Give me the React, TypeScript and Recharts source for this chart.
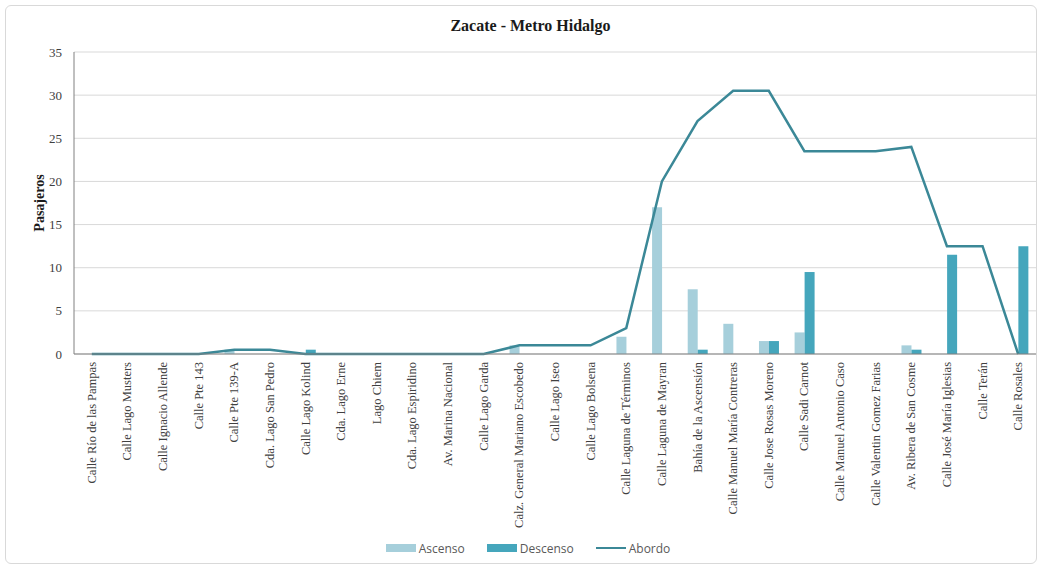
import { ComposedChart, Bar, Line, XAxis, YAxis, CartesianGrid, Legend } from 'recharts';

const paradas = [
  'Calle Río de las Pampas',
  'Calle Lago Musters',
  'Calle Ignacio Allende',
  'Calle Pte 143',
  'Calle Pte 139-A',
  'Cda. Lago San Pedro',
  'Calle Lago Kolind',
  'Cda. Lago Erne',
  'Lago Chiem',
  'Cda. Lago Espiridino',
  'Av. Marina Nacional',
  'Calle Lago Garda',
  'Calz. General Mariano Escobedo',
  'Calle Lago Iseo',
  'Calle Lago Bolsena',
  'Calle Laguna de Términos',
  'Calle Laguna de Mayran',
  'Bahía de la Ascensión',
  'Calle Manuel María Contreras',
  'Calle Jose Rosas Moreno',
  'Calle Sadi Carnot',
  'Calle Manuel Antonio Caso',
  'Calle Valentin Gomez Farias',
  'Av. Ribera de San Cosme',
  'Calle José María Iglesias',
  'Calle Terán',
  'Calle Rosales',
];

const ascenso = [0, 0, 0, 0, 0.5, 0, 0, 0, 0, 0, 0, 0, 1, 0, 0, 2, 17, 7.5, 3.5, 1.5, 2.5, 0, 0, 1, 0, 0, 0];
const descenso = [0, 0, 0, 0, 0, 0, 0.5, 0, 0, 0, 0, 0, 0, 0, 0, 0, 0, 0.5, 0, 1.5, 9.5, 0, 0, 0.5, 11.5, 0, 12.5];
const abordo = [0, 0, 0, 0, 0.5, 0.5, 0, 0, 0, 0, 0, 0, 1, 1, 1, 3, 20, 27, 30.5, 30.5, 23.5, 23.5, 23.5, 24, 12.5, 12.5, 0];

const yTicks = [0, 5, 10, 15, 20, 25, 30, 35];

const C_ASC = '#a6cfdb';
const C_DESC = '#45a6bc';
const C_LINE = '#3b8897';
const SERIF = '"Liberation Serif", "Times New Roman", serif';

const data = paradas.map((p, i) => ({
  parada: p,
  Ascenso: ascenso[i],
  Descenso: descenso[i],
  Abordo: abordo[i],
}));

function StopTick({ x, y, payload }: any) {
  return (
    <text
      x={x}
      y={y}
      dy={4}
      transform={`rotate(-90, ${x}, ${y})`}
      textAnchor="end"
      fontSize={12.5}
      fontFamily={SERIF}
      fill="#404040"
    >
      {payload.value}
    </text>
  );
}

function ChartLegend() {
  const item = { display: 'flex', alignItems: 'center', gap: 3 } as const;
  return (
    <div
      style={{
        display: 'flex',
        justifyContent: 'center',
        gap: 22,
        height: 24,
        alignItems: 'center',
        fontFamily: '"Open Sans", sans-serif',
        fontSize: 12,
        color: '#595959',
      }}
    >
      <span style={item}>
        <span style={{ width: 30, height: 8, background: C_ASC, display: 'inline-block' }} />
        Ascenso
      </span>
      <span style={item}>
        <span style={{ width: 30, height: 8, background: C_DESC, display: 'inline-block' }} />
        Descenso
      </span>
      <span style={item}>
        <span style={{ width: 30, height: 2, background: C_LINE, display: 'inline-block' }} />
        Abordo
      </span>
    </div>
  );
}

export default function App() {
  return (
    <div style={{ position: 'absolute', left: 0, top: 0, width: 1041, height: 568, background: '#fff' }}>
      <div
        style={{
          position: 'absolute',
          left: 5,
          top: 5,
          width: 1030,
          height: 557,
          border: '1px solid #d9d9d9',
          borderRadius: 6,
        }}
      />
      <div
        style={{
          position: 'absolute',
          left: 20,
          top: 17,
          width: 1021,
          textAlign: 'center',
          fontFamily: SERIF,
          fontWeight: 'bold',
          fontSize: 16,
          color: '#1a1a1a',
        }}
      >
        Zacate - Metro Hidalgo
      </div>
      <div style={{ position: 'absolute', left: 0, top: 0 }}>
        <ComposedChart
          width={1041}
          height={568}
          data={data}
          margin={{ top: 52, right: 5, left: 20, bottom: 8 }}
          barGap={0}
        >
          <CartesianGrid vertical={false} stroke="#d9d9d9" />
          <XAxis
            dataKey="parada"
            interval={0}
            height={182}
            tick={<StopTick />}
            tickLine={false}
            axisLine={{ stroke: '#808080' }}
          />
          <YAxis
            domain={[0, 35]}
            ticks={yTicks}
            width={54}
            tickLine={false}
            tickMargin={6}
            axisLine={{ stroke: '#808080' }}
            tick={{ fontSize: 13, fontFamily: SERIF, fill: '#404040' }}
            label={{
              value: 'Pasajeros',
              angle: -90,
              position: 'insideLeft',
              dx: 14,
              style: { fontFamily: SERIF, fontWeight: 'bold', fontSize: 14, fill: '#1a1a1a', textAnchor: 'middle' },
            }}
          />
          <Legend verticalAlign="bottom" content={<ChartLegend />} />
          <Bar dataKey="Ascenso" fill={C_ASC} barSize={10} isAnimationActive={false} />
          <Bar dataKey="Descenso" fill={C_DESC} barSize={10} isAnimationActive={false} />
          <Line
            type="linear"
            dataKey="Abordo"
            stroke={C_LINE}
            strokeWidth={2.5}
            dot={false}
            isAnimationActive={false}
          />
        </ComposedChart>
      </div>
    </div>
  );
}
